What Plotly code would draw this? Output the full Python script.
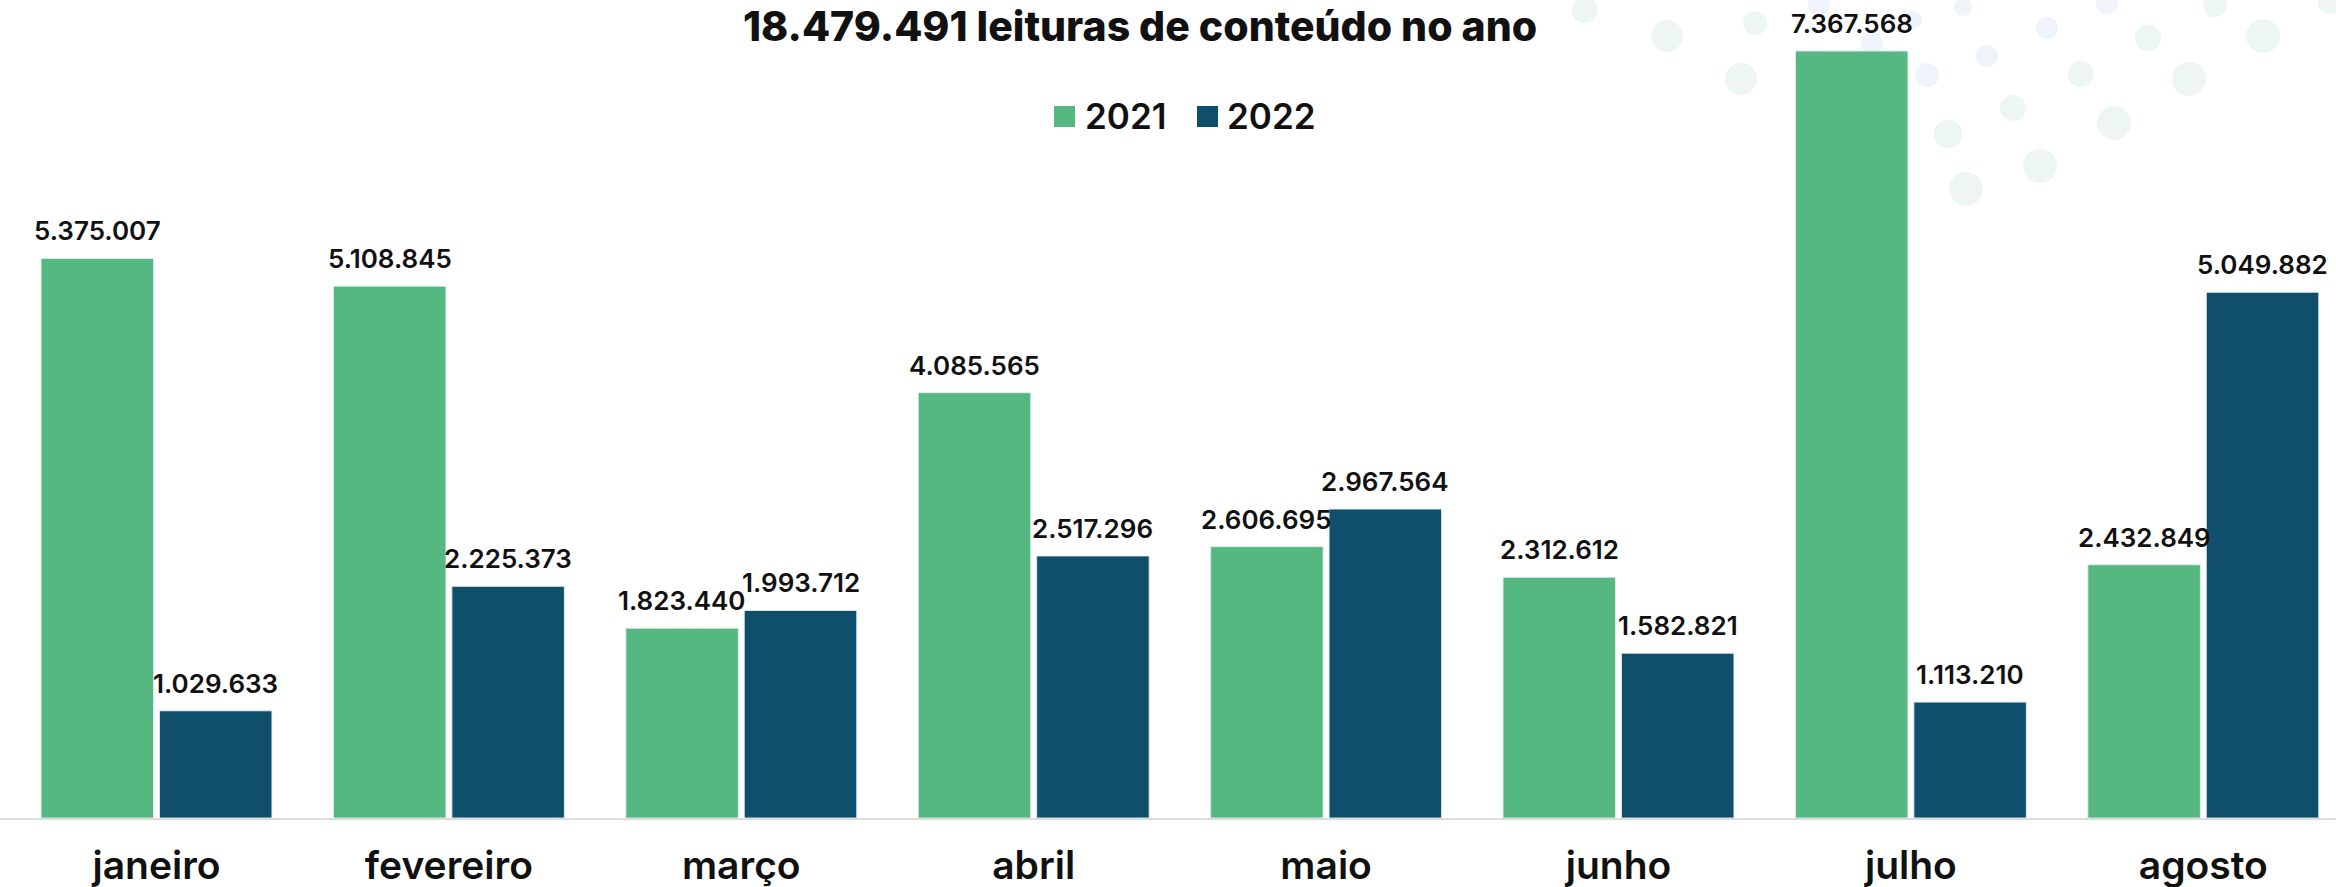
import plotly.graph_objects as go

# ---- data ----
months = ["janeiro", "fevereiro", "março", "abril", "maio", "junho", "julho", "agosto"]
series_names = ["2021", "2022"]
values_2021 = [5375007, 5108845, 1823440, 4085565, 2606695, 2312612, 7367568, 2432849]
values_2022 = [1029633, 2225373, 1993712, 2517296, 2967564, 1582821, 1113210, 5049882]
title_text = "18.479.491 leituras de conteúdo no ano"

# decorative background dots (pixel positions in the page, radius in px)
dot_x = [1585, 1667, 1755, 1741, 1819, 1872, 1913, 1963, 1927, 1987, 2047, 2107, 1948, 1966,
         2013, 2040, 2081, 2114, 2148, 2189, 2215, 2263, 2330]
dot_y = [10, 36, 23, 79, 5, 43, 20, 7, 75, 56, 28, 3, 134, 189,
         108, 166, 74, 123, 38, 79, 5, 36, 2]
dot_r = [13, 16, 12, 16, 11, 11, 9, 9, 12, 11, 11, 11, 14, 17,
         13, 17, 13, 17, 13, 17, 12, 17, 12]
dot_c = ["g", "g", "g", "g", "b", "b", "b", "b", "b", "b", "b", "b", "g", "g",
         "g", "g", "g", "g", "g", "g", "g", "g", "g"]

GREEN = "#54B880"
BLUE = "#104F6C"
W, H = 2336, 887
PLOT_BOTTOM = 818  # px from top where the x axis sits
FONT = "Inter"

BARGAP = 0.19
BARGROUPGAP = 0.05
PX_PER_CAT = 292.4
slot_px = PX_PER_CAT * (1 - BARGAP) / 2


def fmt(v):
    return f"{v:,}".replace(",", ".")


fig = go.Figure()
for name, vals, col in [(series_names[0], values_2021, GREEN), (series_names[1], values_2022, BLUE)]:
    fig.add_trace(go.Bar(
        x=months, y=vals, name=name,
        marker=dict(color=col, line=dict(color="rgba(225,238,242,0.9)", width=1)),
        showlegend=False, hoverinfo="x+y",
    ))

annotations = []
for vals, sign in [(values_2021, -1), (values_2022, 1)]:
    for m, v in zip(months, vals):
        annotations.append(dict(
            x=m, y=v, xref="x", yref="y", text=fmt(v), showarrow=False,
            xshift=sign * slot_px / 2, yshift=10, yanchor="bottom", xanchor="center",
            font=dict(family=FONT, size=26, color="#111111", weight=600),
        ))

# custom legend (squares + labels)
leg_sq_x = [1054, 1197]
leg_txt_x = [1083, 1225]
leg_y_top, leg_y_bot = 106, 127
shapes = []
for i, (name, col) in enumerate(zip(series_names, [GREEN, BLUE])):
    shapes.append(dict(
        type="rect", xref="paper", yref="paper",
        x0=leg_sq_x[i] / W, x1=(leg_sq_x[i] + 21) / W,
        y0=(PLOT_BOTTOM - leg_y_bot) / PLOT_BOTTOM, y1=(PLOT_BOTTOM - leg_y_top) / PLOT_BOTTOM,
        fillcolor=col, line=dict(width=0), layer="above",
    ))
    annotations.append(dict(
        x=leg_txt_x[i] / W, y=(PLOT_BOTTOM - 116) / PLOT_BOTTOM, xref="paper", yref="paper",
        text=name, showarrow=False, xanchor="left", yanchor="middle",
        font=dict(family=FONT, size=35, color="#111111", weight=600),
    ))

for x, y, r, c in zip(dot_x, dot_y, dot_r, dot_c):
    shapes.append(dict(
        type="circle", xref="paper", yref="paper",
        xsizemode="pixel", ysizemode="pixel",
        xanchor=x / W, yanchor=(PLOT_BOTTOM - y) / PLOT_BOTTOM,
        x0=-r, x1=r, y0=-r, y1=r,
        fillcolor="#EEF6F1" if c == "g" else "#EEF4FA",
        line=dict(width=0), layer="below",
    ))

y_top = 7367568 * PLOT_BOTTOM / (PLOT_BOTTOM - 51)
c0 = -156.5 / PX_PER_CAT
c1 = (W - 156.5) / PX_PER_CAT

fig.update_layout(
    width=W, height=H,
    margin=dict(l=0, r=0, t=0, b=H - PLOT_BOTTOM, pad=0),
    paper_bgcolor="white", plot_bgcolor="rgba(0,0,0,0)",
    barmode="group", bargap=BARGAP, bargroupgap=BARGROUPGAP,
    title=dict(
        text=title_text, x=1140 / W, xanchor="center",
        y=1 - 27 / H, yanchor="middle", yref="container",
        font=dict(family=FONT, size=41, color="#111111", weight=800),
    ),
    xaxis=dict(
        type="category", range=[c0, c1], showline=True, linecolor="#DCDCDC", linewidth=2,
        showgrid=False, zeroline=False, ticks="",
        tickfont=dict(family=FONT, size=39, color="#111111", weight=600),
        ticklabelstandoff=12,
    ),
    yaxis=dict(range=[0, y_top], visible=False, showgrid=False, zeroline=False),
    shapes=shapes,
    annotations=annotations,
    showlegend=False,
)

fig.write_html("out.html")
